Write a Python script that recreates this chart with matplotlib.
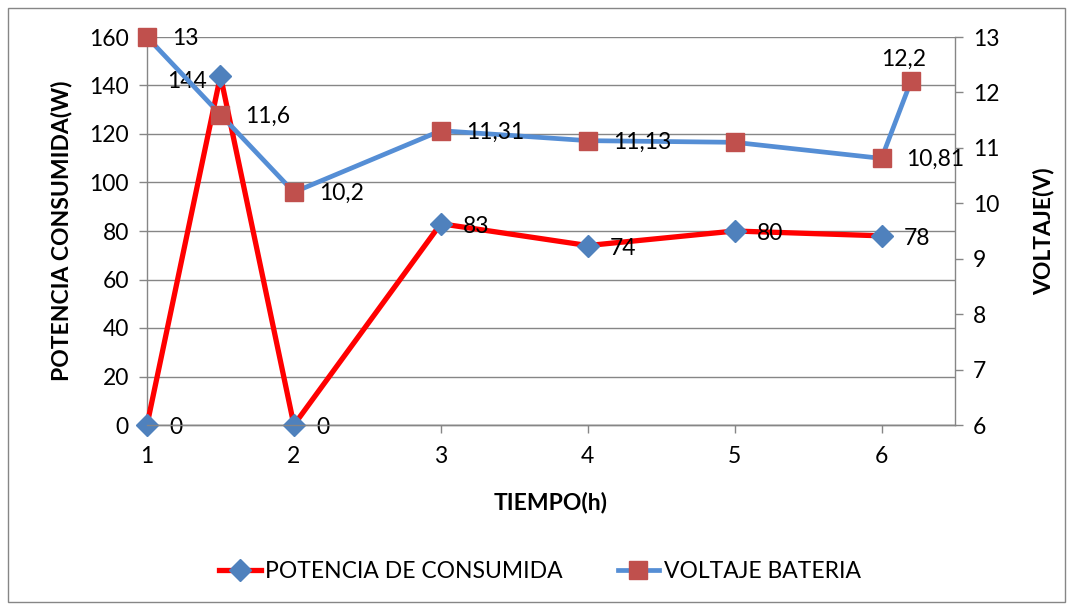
import matplotlib
matplotlib.use("Agg")
import matplotlib.pyplot as plt
from matplotlib.patches import Rectangle

plt.rcParams['font.family'] = ['Lato', 'DejaVu Sans']

# tiempo (h)
t_potencia = [1, 1.5, 2, 3, 4, 5, 6]
potencia = [0, 144, 0, 83, 74, 80, 78]
etiquetas_potencia = ['0', '144', '0', '83', '74', '80', '78']

t_voltaje = [1, 1.5, 2, 3, 4, 5, 6, 6.2]
voltaje = [13, 11.6, 10.2, 11.31, 11.13, 11.1, 10.81, 12.2]
etiquetas_voltaje = ['13', '11,6', '10,2', '11,31', '11,13', '', '10,81', '12,2']

gris = '#868686'
fs = 16.5

fig = plt.figure(figsize=(10.73, 6.10), dpi=100)
ax = fig.add_axes([147 / 1073, 1 - 425 / 610, (955 - 147) / 1073, (425 - 37) / 610])
ax2 = ax.twinx()

ax.plot(t_potencia, potencia, color='#FF0000', lw=3.8, marker='D', ms=11,
        mfc='#4F81BD', mec='#4F81BD', label='POTENCIA DE CONSUMIDA',
        zorder=3, clip_on=False)
ax2.plot(t_voltaje, voltaje, color='#558ED5', lw=3.4, marker='s', ms=13,
         mfc='#C0504D', mec='#C0504D', label='VOLTAJE BATERIA',
         zorder=3, clip_on=False)

for x, y, s in zip(t_potencia, potencia, etiquetas_potencia):
    if s == '144':
        ax.annotate(s, (x, y), xytext=(-10, -4), textcoords='offset points',
                    ha='right', va='center', fontsize=fs)
    else:
        ax.annotate(s, (x, y), xytext=(16, -2), textcoords='offset points',
                    ha='left', va='center', fontsize=fs)

for x, y, s in zip(t_voltaje, voltaje, etiquetas_voltaje):
    if not s:
        continue
    if s == '12,2':
        ax2.annotate(s, (x, y), xytext=(-5, 16), textcoords='offset points',
                     ha='center', va='center', fontsize=fs)
    else:
        ax2.annotate(s, (x, y), xytext=(18, -1), textcoords='offset points',
                     ha='left', va='center', fontsize=fs)

ax.set_xlim(1, 6.5)
ax.set_ylim(0, 160)
ax2.set_ylim(6, 13)
ax.set_xticks([1, 2, 3, 4, 5, 6])
ax.set_yticks(range(0, 161, 20))
ax2.set_yticks(range(6, 14))

ax.grid(axis='y', color=gris, lw=1)
ax.set_axisbelow(True)
for a in (ax, ax2):
    a.spines['top'].set_visible(False)
    for side in ('left', 'right', 'bottom'):
        a.spines[side].set_color(gris)
        a.spines[side].set_linewidth(1)
ax2.spines['left'].set_visible(False)
ax.spines['right'].set_visible(False)

ax.tick_params(axis='both', color=gris, length=6, width=1, labelsize=fs, pad=7)
ax.tick_params(axis='x', pad=9)
ax2.tick_params(axis='y', color=gris, length=6, width=1, labelsize=fs, pad=7)

ax.set_xlabel('TIEMPO(h)', fontsize=fs, fontweight='bold', labelpad=18)
ax.set_ylabel('POTENCIA CONSUMIDA(W)', fontsize=fs, fontweight='bold', labelpad=12)
ax2.set_ylabel('VOLTAJE(V)', fontsize=fs, fontweight='bold', labelpad=24)

h1, l1 = ax.get_legend_handles_labels()
h2, l2 = ax2.get_legend_handles_labels()
fig.legend(h1 + h2, l1 + l2, loc='center', bbox_to_anchor=(540 / 1073, 1 - 572 / 610),
           ncol=2, frameon=False, fontsize=fs, handlelength=1.8, handletextpad=0.2,
           columnspacing=2.4)

fig.patches.append(Rectangle((8 / 1073, 8 / 610), 1057 / 1073, 594 / 610,
                             transform=fig.transFigure, fill=False,
                             edgecolor=gris, lw=1))

fig.savefig('out.png', dpi=100)
